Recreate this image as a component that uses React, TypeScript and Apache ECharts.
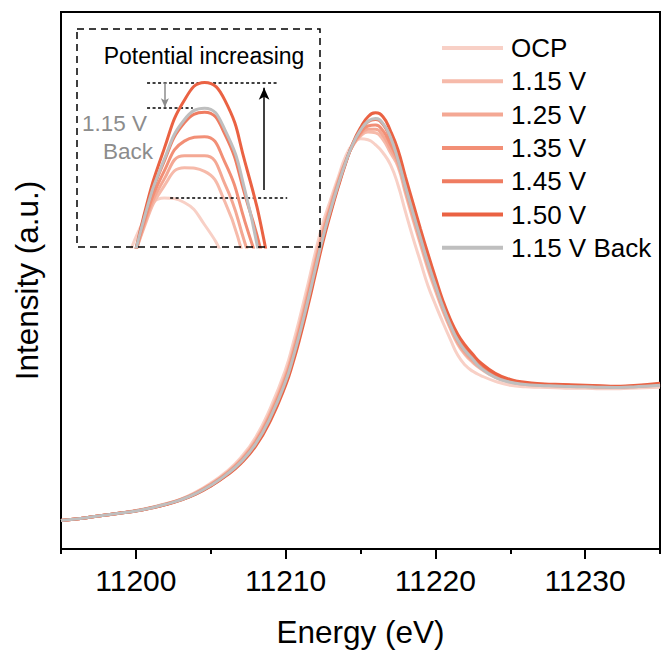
import React, { useEffect, useRef } from "react";
import * as echarts from "echarts";

const FONT = "Arial, 'Liberation Sans', Helvetica, sans-serif";

// Photon energy grid (eV)
const energy = [
  11195, 11196, 11197, 11198, 11199, 11200, 11201, 11202, 11203, 11204, 11205, 11206, 11207, 11208, 11209, 11210,
  11210.5, 11211, 11211.5, 11212, 11212.5, 11213, 11213.5, 11214, 11214.5, 11215, 11215.5, 11216, 11216.5, 11217,
  11217.5, 11218, 11218.5, 11219, 11219.5, 11220, 11220.5, 11221, 11221.5, 11222, 11222.5, 11223,
  11224, 11225, 11226, 11227, 11228, 11229, 11230, 11231, 11232, 11233, 11234, 11235,
];

// Intensities (a.u.)
const ocp = [
  0.285, 0.3, 0.32, 0.34, 0.36, 0.385, 0.415, 0.455, 0.5, 0.57, 0.66, 0.77, 0.915, 1.12, 1.42, 1.8,
  2.06, 2.35, 2.66, 2.98, 3.27, 3.5, 3.72, 3.93, 4.06, 4.11, 4.1, 4.05, 3.97, 3.85,
  3.65, 3.38, 3.12, 2.88, 2.64, 2.45, 2.27, 2.1, 1.94, 1.84, 1.78, 1.74,
  1.68, 1.64, 1.625, 1.62, 1.615, 1.61, 1.61, 1.605, 1.605, 1.61, 1.615, 1.62,
];
const v115 = [
  0.285, 0.3, 0.32, 0.34, 0.36, 0.384, 0.414, 0.452, 0.497, 0.564, 0.651, 0.758, 0.897, 1.093, 1.381, 1.752,
  2.003, 2.287, 2.594, 2.914, 3.213, 3.458, 3.69, 3.888, 4.042, 4.137, 4.178, 4.17, 4.102, 3.969,
  3.832, 3.562, 3.302, 3.052, 2.806, 2.59, 2.384, 2.204, 2.049, 1.944, 1.868, 1.808,
  1.72, 1.67, 1.648, 1.638, 1.633, 1.628, 1.625, 1.62, 1.618, 1.623, 1.63, 1.64,
];
const v125 = [
  0.285, 0.3, 0.32, 0.34, 0.36, 0.383, 0.413, 0.451, 0.496, 0.561, 0.647, 0.752, 0.888, 1.08, 1.362, 1.728,
  1.975, 2.256, 2.561, 2.881, 3.185, 3.437, 3.675, 3.882, 4.047, 4.152, 4.205, 4.205, 4.142, 4.008,
  3.86, 3.59, 3.33, 3.078, 2.832, 2.612, 2.402, 2.22, 2.066, 1.96, 1.882, 1.818,
  1.728, 1.676, 1.652, 1.641, 1.636, 1.631, 1.628, 1.623, 1.62, 1.625, 1.633, 1.644,
];
const v135 = [
  0.285, 0.3, 0.32, 0.34, 0.36, 0.382, 0.412, 0.449, 0.494, 0.558, 0.642, 0.746, 0.879, 1.066, 1.342, 1.704,
  1.946, 2.224, 2.528, 2.848, 3.156, 3.416, 3.66, 3.876, 4.053, 4.17, 4.238, 4.248, 4.191, 4.056,
  3.895, 3.625, 3.365, 3.111, 2.864, 2.639, 2.424, 2.24, 2.087, 1.98, 1.899, 1.831,
  1.736, 1.682, 1.657, 1.645, 1.64, 1.635, 1.631, 1.626, 1.623, 1.628, 1.636, 1.648,
];
const v145 = [
  0.285, 0.3, 0.32, 0.34, 0.36, 0.38, 0.41, 0.446, 0.492, 0.553, 0.635, 0.736, 0.864, 1.044, 1.31, 1.664,
  1.9, 2.172, 2.473, 2.793, 3.109, 3.381, 3.635, 3.866, 4.061, 4.192, 4.279, 4.303, 4.254, 4.116,
  3.948, 3.678, 3.418, 3.161, 2.912, 2.68, 2.457, 2.27, 2.119, 2.01, 1.925, 1.851,
  1.748, 1.691, 1.663, 1.65, 1.645, 1.64, 1.636, 1.631, 1.626, 1.631, 1.641, 1.654,
];
const v150 = [
  0.285, 0.3, 0.32, 0.34, 0.36, 0.38, 0.41, 0.445, 0.49, 0.55, 0.63, 0.73, 0.855, 1.03, 1.29, 1.64,
  1.87, 2.14, 2.44, 2.76, 3.08, 3.36, 3.62, 3.86, 4.07, 4.22, 4.33, 4.37, 4.33, 4.19,
  4.0, 3.73, 3.47, 3.21, 2.96, 2.72, 2.49, 2.3, 2.15, 2.04, 1.95, 1.87,
  1.76, 1.7, 1.67, 1.655, 1.65, 1.645, 1.64, 1.635, 1.63, 1.635, 1.645, 1.66,
];
const back115 = [
  0.285, 0.3, 0.32, 0.34, 0.36, 0.381, 0.411, 0.448, 0.493, 0.555, 0.638, 0.74, 0.87, 1.053, 1.323, 1.68,
  1.918, 2.193, 2.495, 2.815, 3.128, 3.395, 3.645, 3.87, 4.062, 4.196, 4.286, 4.312, 4.264, 4.126,
  3.902, 3.632, 3.372, 3.118, 2.87, 2.644, 2.428, 2.244, 2.091, 1.984, 1.902, 1.818,
  1.72, 1.67, 1.648, 1.638, 1.633, 1.628, 1.625, 1.62, 1.618, 1.623, 1.63, 1.64,
];

const seriesNames = ["OCP", "1.15 V", "1.25 V", "1.35 V", "1.45 V", "1.50 V", "1.15 V Back"];
const seriesValues = [ocp, v115, v125, v135, v145, v150, back115];
const xTickLabels = [11200, 11210, 11220, 11230];
const xMinorTicks = [11195, 11205, 11215, 11225, 11235];

const palette = ["#f8d0c6", "#f6baaa", "#f4a894", "#f28f76", "#ef7c61", "#ea6243", "#bfbfbf"];

export default function App() {
  const ref = useRef<HTMLDivElement>(null);

  useEffect(() => {
    if (!ref.current) return;
    const chart = echarts.init(ref.current, undefined, { renderer: "svg" });

    const peakTop = Math.max(...v150);
    const peakBack = Math.max(...back115);
    const peakOcp = Math.max(...ocp);

    const mkSeries = (inset: boolean) =>
      seriesNames.map((name, i) => ({
        type: "line",
        name,
        xAxisIndex: inset ? 2 : 0,
        yAxisIndex: inset ? 1 : 0,
        data: energy.map((e, j) => [e, seriesValues[i][j]]),
        symbol: "none",
        showSymbol: false,
        smooth: 0.5,
        clip: true,
        silent: true,
        z: 2 + i,
        lineStyle: { width: 3, color: palette[i] },
        itemStyle: { color: palette[i] },
      }));

    const insetSeries: any[] = mkSeries(true);
    const dotted = { color: "#000", width: 1.5, type: [3, 2.5] };
    insetSeries[insetSeries.length - 1].markLine = {
      silent: true,
      animation: false,
      symbol: ["none", "none"],
      label: { show: false },
      emphasis: { disabled: true },
      data: [
        [
          { coord: [11214.58, peakTop], lineStyle: dotted, symbol: "none" },
          { coord: [11217.81, peakTop], symbol: "none" },
        ],
        [
          { coord: [11214.58, peakBack], lineStyle: dotted, symbol: "none" },
          { coord: [11215.71, peakBack], symbol: "none" },
        ],
        [
          { coord: [11215.15, peakOcp], lineStyle: dotted, symbol: "none" },
          { coord: [11218.04, peakOcp], symbol: "none" },
        ],
        [
          { coord: [11217.47, peakOcp + 0.018], lineStyle: { color: "#000", width: 1.5, type: "solid" }, symbol: "none" },
          { coord: [11217.47, peakTop - 0.012], symbol: "arrow", symbolSize: [8, 12] },
        ],
        [
          { coord: [11215.02, peakTop], lineStyle: { color: "#8c8c8c", width: 1.5, type: "solid" }, symbol: "none" },
          { coord: [11215.02, peakBack + 0.002], symbol: "arrow", symbolSize: [6, 9] },
        ],
      ],
    };

    const option: any = {
      animation: false,
      backgroundColor: "#ffffff",
      textStyle: { fontFamily: FONT },
      grid: [
        { left: 61, right: 2, top: 12, bottom: 103, show: true, borderColor: "#000", borderWidth: 2, backgroundColor: "transparent" },
        { left: 77, top: 29, width: 243, height: 218 },
      ],
      xAxis: [
        {
          type: "value",
          gridIndex: 0,
          min: 11195,
          max: 11235,
          position: "bottom",
          axisLine: { show: true, onZero: false, lineStyle: { color: "#000", width: 2 } },
          axisTick: { show: true, length: 10, lineStyle: { color: "#000", width: 2 }, customValues: xTickLabels },
          axisLabel: {
            show: true,
            customValues: xTickLabels,
            formatter: (v: number) => String(v),
            fontSize: 30,
            color: "#000",
            margin: 16,
            fontFamily: FONT,
          },
          splitLine: { show: false },
          name: "Energy (eV)",
          nameLocation: "middle",
          nameGap: 67,
          nameTextStyle: { fontSize: 31.5, color: "#000", fontFamily: FONT },
        },
        {
          type: "value",
          gridIndex: 0,
          min: 11195,
          max: 11235,
          position: "bottom",
          axisLine: { show: false, onZero: false },
          axisTick: { show: true, length: 5, lineStyle: { color: "#000", width: 2 }, customValues: xMinorTicks },
          axisLabel: { show: false },
          splitLine: { show: false },
        },
        { type: "value", gridIndex: 1, min: 11212.85, max: 11218.85, show: false, splitLine: { show: false } },
      ],
      yAxis: [
        {
          type: "value",
          gridIndex: 0,
          min: 0,
          max: 5.38,
          axisLine: { show: true, onZero: false, lineStyle: { color: "#000", width: 2 } },
          axisTick: { show: false },
          axisLabel: { show: false },
          splitLine: { show: false },
          name: "Intensity (a.u.)",
          nameLocation: "middle",
          nameGap: 18,
          nameTextStyle: { fontSize: 31.5, color: "#000", fontFamily: FONT },
        },
        { type: "value", gridIndex: 1, min: 4.0, max: 4.49, show: false, splitLine: { show: false } },
      ],
      legend: {
        data: seriesNames.map((name) => ({ name, icon: "rect" })),
        orient: "vertical",
        left: 442,
        top: 35,
        padding: 0,
        itemWidth: 61,
        itemHeight: 4,
        itemGap: 7.3,
        selectedMode: false,
        textStyle: { fontSize: 26, color: "#000", fontFamily: FONT, lineHeight: 26, padding: [0, 0, 0, 3] },
      },
      series: [...mkSeries(false), ...insetSeries],
      graphic: [
        {
          type: "rect",
          z: 100,
          silent: true,
          shape: { x: 77, y: 29, width: 243, height: 218 },
          style: { fill: "none", stroke: "#000", lineWidth: 1.5, lineDash: [7, 5] },
        },
        {
          type: "text",
          z: 100,
          x: 204,
          y: 56,
          style: { text: "Potential increasing", fontSize: 23, fontFamily: FONT, fill: "#000", align: "center", textAlign: "center", verticalAlign: "middle", textVerticalAlign: "middle" },
        },
        {
          type: "text",
          z: 100,
          x: 82,
          y: 123,
          style: { text: "1.15 V", fontSize: 22.5, fontFamily: FONT, fill: "#8c8c8c", align: "left", textAlign: "left", verticalAlign: "middle", textVerticalAlign: "middle" },
        },
        {
          type: "text",
          z: 100,
          x: 103,
          y: 151,
          style: { text: "Back", fontSize: 22.5, fontFamily: FONT, fill: "#8c8c8c", align: "left", textAlign: "left", verticalAlign: "middle", textVerticalAlign: "middle" },
        },
      ],
    };

    chart.setOption(option);
    return () => chart.dispose();
  }, []);

  return <div ref={ref} style={{ position: "fixed", left: 0, top: 0, width: 662, height: 653 }} />;
}
